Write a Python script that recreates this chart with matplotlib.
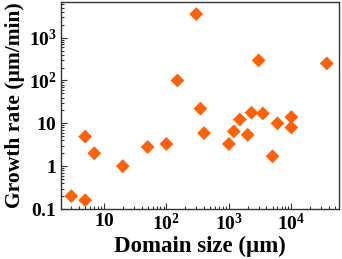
import matplotlib
matplotlib.use("Agg")
import matplotlib.pyplot as plt
from matplotlib.ticker import FixedLocator, LogLocator, NullFormatter

# domain size (um) and growth rate (um/min)
domain_size = [3, 5, 5, 7, 20, 50, 100, 150, 300, 350, 400,
               1000, 1200, 1500, 2000, 2300, 3000, 3500, 5000, 6000,
               10000, 10000, 37000]
growth_rate = [0.2, 0.16, 4.9, 2.0, 1.0, 2.8, 3.3, 100, 3550, 22, 5.9,
               3.3, 6.5, 12.3, 5.4, 17.7, 295, 17, 1.7, 10,
               14, 8, 250]

x_ticks = [10, 100, 1000, 10000]
x_tick_labels = [r"$\mathbf{10}$", r"$\mathbf{10^{2}}$", r"$\mathbf{10^{3}}$", r"$\mathbf{10^{4}}$"]
y_ticks = [0.1, 1, 10, 100, 1000]
y_tick_labels = [r"$\mathbf{0.1}$", r"$\mathbf{1}$", r"$\mathbf{10}$", r"$\mathbf{10^{2}}$", r"$\mathbf{10^{3}}$"]

plt.rcParams["font.family"] = ["Liberation Serif", "DejaVu Serif"]
plt.rcParams["font.weight"] = "bold"
plt.rcParams["mathtext.fontset"] = "custom"
plt.rcParams["mathtext.rm"] = "Liberation Serif"
plt.rcParams["mathtext.bf"] = "Liberation Serif:bold"

fig = plt.figure(figsize=(3.42, 2.59), dpi=100)
ax = fig.add_axes([61 / 342, 1 - 209 / 259, (339 - 61) / 342, (209 - 2) / 259])

ax.scatter(domain_size, growth_rate, marker="D", s=50, color="#ff6108",
           edgecolors="none", zorder=3)

ax.set_xscale("log")
ax.set_yscale("log")
ax.set_xlim(2.05, 5.8e4)
ax.set_ylim(0.1, 6800)

ax.xaxis.set_major_locator(FixedLocator(x_ticks))
ax.set_xticklabels(x_tick_labels)
ax.yaxis.set_major_locator(FixedLocator(y_ticks))
ax.set_yticklabels(y_tick_labels)
ax.xaxis.set_minor_locator(LogLocator(base=10, subs=range(2, 10), numticks=20))
ax.yaxis.set_minor_locator(LogLocator(base=10, subs=range(2, 10), numticks=20))
ax.xaxis.set_minor_formatter(NullFormatter())
ax.yaxis.set_minor_formatter(NullFormatter())

ax.tick_params(which="both", direction="in", top=False, right=False,
               labelsize=14, width=0.8, color="#333333")
ax.tick_params(which="major", length=4, pad=3)
ax.tick_params(which="minor", length=2)

for sp in ax.spines.values():
    sp.set_linewidth(1.0)
    sp.set_color("#333333")

ax.set_xlabel("Domain size (µm)", fontsize=16.5, fontweight="bold", labelpad=1)
ax.set_ylabel("Growth rate (µm/min)", fontsize=15.5, fontweight="bold", labelpad=3)

fig.savefig("out.png", dpi=100)
